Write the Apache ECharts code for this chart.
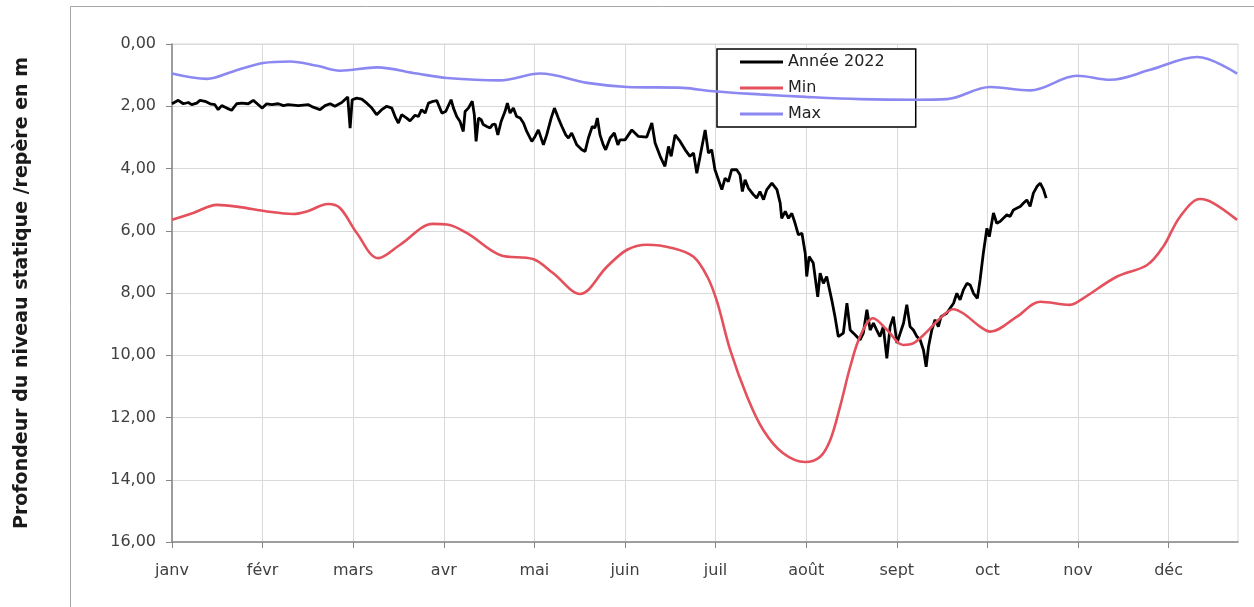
<!DOCTYPE html>
<html>
<head>
<meta charset="utf-8">
<script src="https://cdn.jsdelivr.net/npm/echarts@6/dist/echarts.min.js"></script>
<style>
html,body{margin:0;padding:0;background:#fff;}
#chart{width:1254px;height:607px;}
</style>
</head>
<body>
<div id="chart"></div>
<script>
// Month labels (x axis), equally spaced
const mois = ['janv', 'févr', 'mars', 'avr', 'mai', 'juin', 'juil', 'août', 'sept', 'oct', 'nov', 'déc'];
// Y axis ticks (depth in m)
const profTicks = [0, 2, 4, 6, 8, 10, 12, 14, 16];
const seriesNames = ['Année 2022', 'Min', 'Max'];

// [day from 1 Jan, depth m] — Année 2022
const annee2022 = [
[0,1.92],[2.1,1.81],[3.8,1.92],[5.5,1.88],[6.6,1.95],[8.3,1.90],[9.4,1.81],[11.1,1.84],[12.8,1.92],[14.4,1.95],[15.5,2.11],[16.7,1.98],[18.4,2.06],[20.0,2.13],[21.7,1.92],[23.4,1.90],[25.6,1.92],[27.3,1.81],[29.0,1.95],[30.3,2.06],[31.8,1.92],[33.5,1.95],[35.7,1.92],[37.4,1.98],[39.0,1.95],[42.4,1.98],[45.8,1.95],[47.4,2.03],[49.7,2.11],[51.4,1.98],[53.1,1.92],[54.7,2.00],[57.0,1.88],[59.0,1.70],[59.8,2.70],[60.5,1.79],[62.0,1.74],[63.7,1.77],[65.4,1.90],[67.1,2.06],[68.7,2.27],[70.4,2.11],[72.1,2.00],[73.8,2.06],
[74.9,2.33],[76.0,2.54],[77.1,2.27],[78.8,2.38],[79.9,2.47],[81.6,2.29],[82.7,2.33],[83.8,2.11],[85.0,2.22],[86.1,1.90],[87.7,1.84],[88.9,1.82],[90.6,2.22],[91.9,2.17],[93.7,1.79],[94.5,2.06],[95.6,2.33],[96.7,2.49],[97.8,2.81],[98.4,2.17],[99.5,2.06],[100.8,1.84],[101.5,2.27],[102.1,3.13],[102.9,2.38],[103.8,2.43],[104.5,2.59],[105.7,2.65],[106.8,2.70],[107.6,2.59],[108.5,2.57],[109.4,2.92],[110.5,2.49],[111.8,2.17],[112.6,1.90],[113.5,2.22],[114.6,2.06],[115.7,2.33],[116.9,2.38],[118.0,2.54],[119.1,2.81],[120.8,3.13],[121.9,2.97],[123.0,2.76],[124.7,3.24],[125.8,2.92],[127.3,2.38],[128.4,2.06],[129.7,2.38],[130.9,2.65],[132.2,2.92],[133.1,3.02],[134.2,2.86],[135.9,3.24],[137.6,3.40],[138.7,3.45],[139.8,3.02],[141.1,2.65],[142.0,2.70],[142.8,2.38],[143.7,2.92],[144.8,3.24],[145.6,3.40],[147.1,3.02],[148.5,2.86],[149.7,3.24],[150.4,3.08],
[152.1,3.08],[154.4,2.76],[156.6,2.97],[159.4,2.99],[161.1,2.54],[162.2,3.18],[163.9,3.61],[165.5,3.93],[166.7,3.29],[167.6,3.61],[168.9,2.92],[170.6,3.13],[172.3,3.40],[173.9,3.61],[175.1,3.50],[176.2,4.15],[177.3,3.61],[179.0,2.76],[180.1,3.50],[181.2,3.40],[182.3,4.04],[184.6,4.68],[185.7,4.31],[186.8,4.42],[187.9,4.04],[189.6,4.04],[190.7,4.20],[191.5,4.74],[192.4,4.36],[193.5,4.63],[195.2,4.84],[196.3,4.95],[197.4,4.74],[198.6,5.00],[199.7,4.68],[201.4,4.47],[203.1,4.68],[204.2,5.11],[204.7,5.60],[205.9,5.38],[207.0,5.60],[208.1,5.44],[209.2,5.76],[210.3,6.13],[211.5,6.08],[212.6,6.72],[213.1,7.47],[213.9,6.83],[215.3,7.04],[216.8,8.12],
[217.6,7.36],[218.7,7.69],[219.8,7.47],[221.5,8.22],[222.6,8.76],[223.7,9.40],[225.4,9.29],[226.6,8.33],[227.7,9.19],[228.8,9.29],[229.9,9.40],[231.0,9.51],[232.1,9.29],[233.3,8.54],[234.4,9.19],[235.5,8.97],[236.6,9.19],[237.7,9.40],[238.8,9.08],[240.0,10.10],[241.1,9.08],[242.2,8.76],[243.4,9.61],[244.5,9.29],[245.6,8.97],[246.7,8.38],[247.8,9.08],[248.9,9.19],[250.1,9.40],[251.2,9.51],[252.3,9.83],[253.2,10.37],[254.0,9.72],[255.1,9.19],[256.2,8.86],[257.3,9.08],
[258.2,8.76],[260.1,8.65],[262.4,8.33],[263.5,8.01],[264.6,8.22],[265.7,7.90],[266.9,7.69],[268.0,7.74],[269.1,8.01],[270.4,8.17],[271.3,7.58],[272.4,6.72],[273.6,5.92],[274.4,6.19],[275.8,5.43],[276.9,5.76],[278.0,5.70],[279.2,5.59],[280.3,5.49],[281.4,5.54],[282.5,5.33],[283.6,5.28],[284.8,5.22],[285.9,5.11],[287.0,5.01],[288.1,5.22],[289.2,4.79],[290.4,4.58],[291.5,4.47],[292.6,4.68],[293.5,4.95]
];

// [day, depth m] — Min
const minProf = [
[0,5.65],[7.1,5.43],[15.1,5.17],[22.8,5.24],[31.9,5.38],[40.6,5.46],[45.3,5.38],[52.4,5.14],[56.4,5.27],[62.1,6.08],[69.2,6.88],[76.6,6.45],[87.6,5.78],[92.3,5.80],[99.1,6.08],[110.1,6.78],[121.2,6.91],[127.9,7.36],[137.0,8.03],[146.1,7.15],[152.8,6.61],[159.5,6.45],[168.2,6.56],[175.0,6.83],[179.7,7.47],[183.0,8.28],[187.4,9.83],[193.1,11.33],[198.5,12.40],[205.2,13.15],[212.6,13.43],[217.6,13.26],[221.0,12.72],[224.3,11.65],[227.7,10.37],[231.0,9.40],[235.4,8.81],[240.1,9.19],[245.5,9.67],[248.8,9.62],[253.5,9.24],[257.9,8.81],[262.3,8.52],[265.6,8.65],[271.3,9.08],[274.7,9.24],[283.7,8.76],[291.5,8.28],[301.5,8.38],[305.9,8.17],[317.3,7.47],[327.4,7.10],[332.8,6.51],[338.5,5.54],[345.2,4.98],[349.6,5.11],[357.6,5.65]
];

// [day, depth m] — Max
const maxProf = [
[0,0.95],[11.8,1.12],[20.5,0.88],[30.6,0.61],[39.6,0.56],[48.7,0.70],[56.4,0.86],[68.8,0.75],[82.3,0.95],[92.3,1.09],[110.1,1.17],[123.6,0.95],[139.4,1.25],[152.8,1.38],[171.6,1.41],[181.7,1.52],[197.4,1.62],[212.9,1.70],[231.0,1.77],[250.2,1.79],[260.2,1.77],[274.7,1.38],[288.1,1.49],[303.9,1.02],[315.0,1.15],[328.4,0.83],[344.2,0.42],[357.6,0.95]
];

const moisLen = 365 / 12;
const moisTicks = mois.map((m, i) => i * moisLen);
const font = 'DejaVu Sans';

const chart = echarts.init(document.getElementById('chart'), null, {renderer: 'canvas'});
chart.setOption({
  animation: false,
  backgroundColor: '#ffffff',
  textStyle: {fontFamily: font},
  graphic: [{
    type: 'rect', silent: true, z: -10,
    shape: {x: 70.5, y: 6.5, width: 1300, height: 700},
    style: {fill: 'none', stroke: '#a6a6a6', lineWidth: 1}
  }],
  grid: {left: 172, top: 44, width: 1066, height: 498, show: true, borderColor: '#d9d9d9', borderWidth: 1, containLabel: false},
  legend: {
    data: seriesNames.map(n => ({name: n, icon: 'rect'})),
    orient: 'vertical',
    left: 717, top: 49,
    padding: [5, 31, 5, 23],
    itemWidth: 43, itemHeight: 3, itemGap: 10,
    backgroundColor: '#ffffff',
    borderColor: '#000000', borderWidth: 1.5, borderRadius: 0,
    textStyle: {fontFamily: font, fontSize: 16, lineHeight: 16, color: '#222222'}
  },
  xAxis: {
    type: 'value',
    min: 0, max: 357.9, interval: moisLen,
    axisLine: {onZero: false, lineStyle: {color: '#868686', width: 1.5}},
    axisTick: {show: true, inside: false, length: 6, customValues: moisTicks, lineStyle: {color: '#868686'}},
    axisLabel: {
      margin: 21, fontSize: 16, color: '#404040', fontFamily: font, customValues: moisTicks,
      formatter: v => { const i = Math.round(v / moisLen); return (i >= 0 && i < 12 && Math.abs(v - i * moisLen) < 0.5) ? mois[i] : ''; }
    },
    splitLine: {show: true, lineStyle: {color: '#d9d9d9', width: 1}}
  },
  yAxis: {
    type: 'value', inverse: true,
    min: profTicks[0], max: profTicks[profTicks.length - 1], interval: profTicks[1] - profTicks[0],
    name: 'Profondeur du niveau statique /repère en m',
    nameLocation: 'middle', nameRotate: 90, nameGap: 140,
    nameTextStyle: {fontFamily: font, fontSize: 19, fontWeight: 'bold', color: '#1a1a1a'},
    axisLine: {show: true, lineStyle: {color: '#868686', width: 1.5}},
    axisTick: {show: true, inside: false, length: 6, lineStyle: {color: '#868686'}},
    axisLabel: {margin: 16, fontSize: 16, color: '#404040', fontFamily: font,
      formatter: v => v.toFixed(2).replace('.', ',')},
    splitLine: {show: true, lineStyle: {color: '#d9d9d9', width: 1}}
  },
  series: [
    {name: seriesNames[0], type: 'line', data: annee2022, showSymbol: false, symbol: 'none',
     lineStyle: {color: '#000000', width: 2.8}, itemStyle: {color: '#000000'}, z: 3},
    {name: seriesNames[1], type: 'line', data: minProf, smooth: 0.35, showSymbol: false, symbol: 'none',
     lineStyle: {color: '#e4505c', width: 2.6}, itemStyle: {color: '#e4505c'}, z: 4},
    {name: seriesNames[2], type: 'line', data: maxProf, smooth: 0.35, showSymbol: false, symbol: 'none',
     lineStyle: {color: '#8c88f2', width: 2.6}, itemStyle: {color: '#8c88f2'}, z: 5}
  ]
});
</script>
</body>
</html>
